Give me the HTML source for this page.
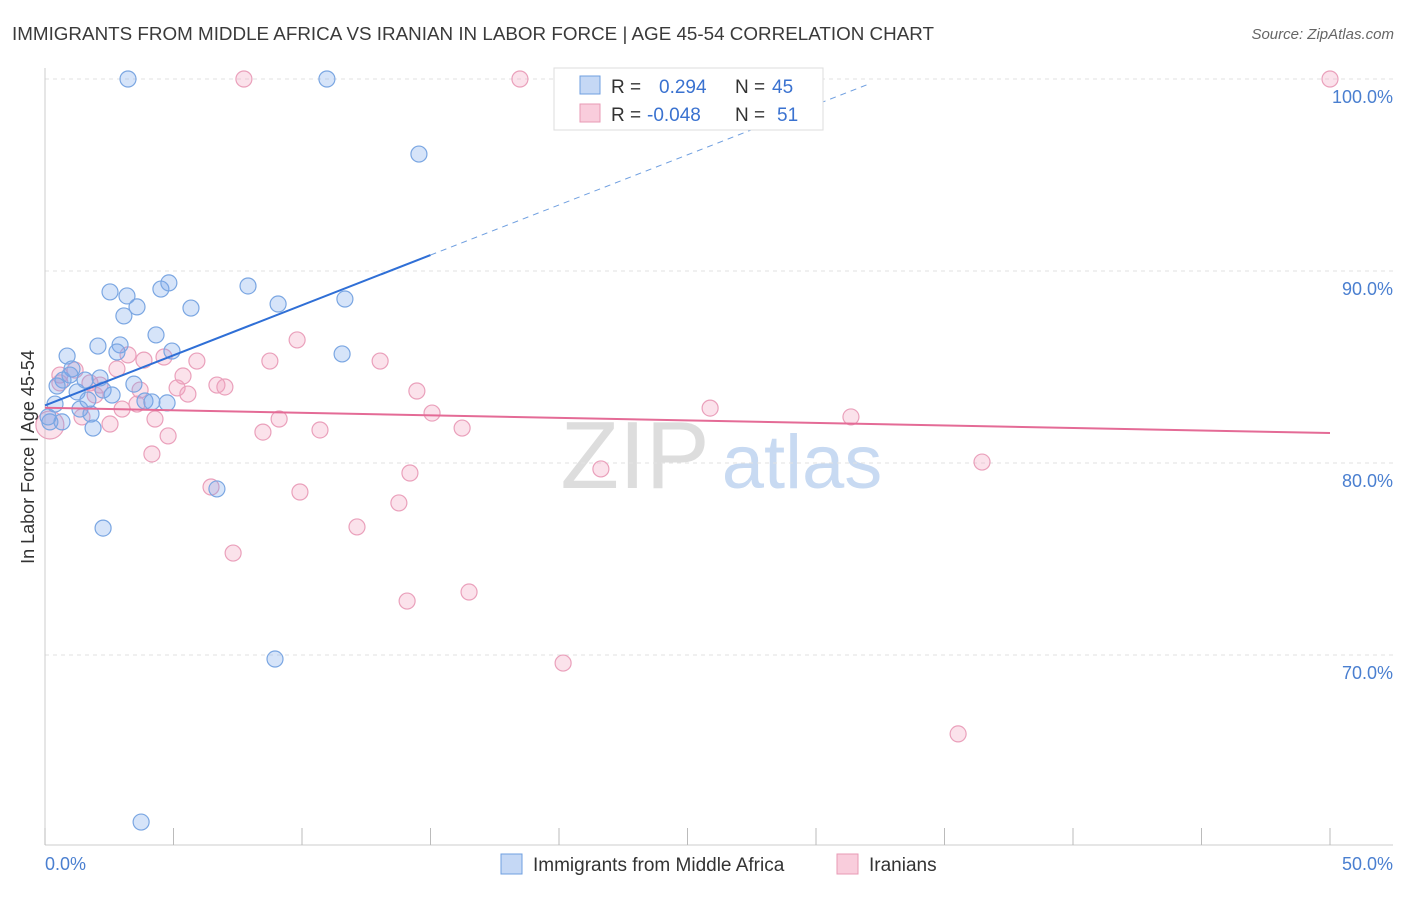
<!DOCTYPE html>
<html><head><meta charset="utf-8"><style>
body{margin:0;background:#fff;font-family:"Liberation Sans",sans-serif;}
svg text{font-family:"Liberation Sans",sans-serif;}
</style></head><body>
<svg width="1406" height="892" xmlns="http://www.w3.org/2000/svg">
<text x="12" y="40" font-size="18" fill="#3a3a3a" textLength="922" lengthAdjust="spacingAndGlyphs">IMMIGRANTS FROM MIDDLE AFRICA VS IRANIAN IN LABOR FORCE | AGE 45-54 CORRELATION CHART</text>
<text x="1394" y="39" font-size="15" fill="#666" font-style="italic" text-anchor="end">Source: ZipAtlas.com</text>
<g>
<text x="635" y="488" font-size="96" font-family="Liberation Serif" fill="#ddd" text-anchor="middle">ZIP</text>
<text x="802" y="488" font-size="76" fill="#c8daf2" text-anchor="middle">atlas</text>
</g>
<g id="grid"></g>
<g id="axes"></g>
<g id="marks"></g>
<text transform="translate(34,457) rotate(-90)" font-size="18" fill="#333" text-anchor="middle">In Labor Force | Age 45-54</text>
<text x="45" y="870" font-size="18" fill="#4a7fd0">0.0%</text>
<text x="1393" y="870" font-size="18" fill="#4a7fd0" text-anchor="end">50.0%</text>
<g>
<rect x="554" y="68" width="269" height="62" fill="#fff" stroke="#ddd"/>
<rect x="580" y="76" width="20" height="18" fill="#c5d8f5" stroke="#6f9fe0"/>
<rect x="580" y="104" width="20" height="18" fill="#f9cddc" stroke="#e89ab5"/>
<text x="611" y="93" font-size="19" fill="#333">R =</text>
<text x="659" y="93" font-size="19" fill="#3a72d0">0.294</text>
<text x="735" y="93" font-size="19" fill="#333">N =</text>
<text x="772" y="93" font-size="19" fill="#3a72d0">45</text>
<text x="611" y="121" font-size="19" fill="#333">R =</text>
<text x="647" y="121" font-size="19" fill="#3a72d0">-0.048</text>
<text x="735" y="121" font-size="19" fill="#333">N =</text>
<text x="777" y="121" font-size="19" fill="#3a72d0">51</text>
</g>
<g>
<rect x="501" y="854" width="21" height="20" fill="#c5d8f5" stroke="#6f9fe0"/>
<text x="533" y="871" font-size="19" fill="#333">Immigrants from Middle Africa</text>
<rect x="837" y="854" width="21" height="20" fill="#f9cddc" stroke="#e89ab5"/>
<text x="869" y="871" font-size="19" fill="#333">Iranians</text>
</g>
</svg>
<script>
const yTicks=[70,80,90,100];
const yTickLabels=["70.0%","80.0%","90.0%","100.0%"];
const xTicks=[0,5,10,15,20,25,30,35,40,45,50];
const blueX=[3.23,10.97,14.55,2.53,3.19,3.07,3.58,4.51,4.82,5.68,7.90,9.07,11.67,4.32,2.06,2.92,2.80,4.94,0.86,11.56,1.05,0.70,0.47,2.14,3.46,1.25,2.26,2.61,1.67,0.39,3.89,4.16,4.75,1.36,1.79,0.66,0.19,1.87,6.69,2.26,8.95,3.74,0.12,1.56,0.97];
const blueY=[100,100,96.09,88.91,88.70,87.66,88.13,89.06,89.38,88.07,89.22,88.28,88.54,86.67,86.09,86.15,85.78,85.83,85.57,85.68,84.90,84.32,84.01,84.43,84.11,83.70,83.80,83.54,83.28,83.07,83.23,83.18,83.13,82.81,82.55,82.14,82.14,81.82,78.65,76.61,69.79,61.30,82.40,84.32,84.58];
const pinkX=[7.74,18.48,50.0,9.81,13.04,8.75,5.91,4.63,3.85,3.23,2.80,1.17,0.58,5.37,6.69,7.00,5.14,5.56,14.47,2.14,1.75,25.88,15.06,31.36,3.00,3.58,4.28,1.44,2.53,9.11,10.70,8.48,16.23,4.79,4.16,21.63,36.46,14.20,6.46,9.92,13.77,12.14,7.32,16.50,14.09,20.16,35.53,0.19,0.58,1.95,3.70];
const pinkY=[100,100,100,86.41,85.31,85.31,85.31,85.52,85.36,85.63,84.90,84.84,84.58,84.53,84.06,83.96,83.91,83.59,83.75,84.06,84.17,82.86,82.60,82.40,82.81,83.07,82.29,82.40,82.03,82.29,81.72,81.61,81.82,81.41,80.47,79.69,80.05,79.48,78.75,78.49,77.92,76.67,75.31,73.28,72.81,69.58,65.89,81.98,84.17,83.54,83.80];
const blueTrendX=[0,15,32.1];
const blueTrendY=[83.0,90.83,99.76];
const pinkTrendX=[0,50];
const pinkTrendY=[82.88,81.56];

const NS="http://www.w3.org/2000/svg";
const xs=v=>45+v*25.7;
const ys=v=>79+(100-v)*19.2;
function mk(tag,attrs,parent){const e=document.createElementNS(NS,tag);for(const k in attrs)e.setAttribute(k,attrs[k]);document.getElementById(parent).appendChild(e);return e;}
yTicks.forEach((t,i)=>{
  const l=mk('line',{x1:45,x2:1393,y1:ys(t),y2:ys(t),stroke:'#e2e2e2','stroke-dasharray':'4,4'},'grid');
  
  
  const tx=mk('text',{x:1393,y:ys(t)+24,'font-size':18,fill:'#4a7fd0','text-anchor':'end'},'grid');
  tx.textContent=yTickLabels[i];
  
  
});
const ya=mk('line',{x1:45,x2:45,y1:68,y2:845,stroke:'#ccc'},'axes');


const xa=mk('line',{x1:45,x2:1393,y1:845,y2:845,stroke:'#ccc'},'axes');


xTicks.forEach(t=>{
  const l=mk('line',{x1:xs(t),x2:xs(t),y1:828,y2:845,stroke:'#bbb'},'axes');
  
  
});
pinkX.forEach((x,i)=>{
  const c=mk('circle',{cx:xs(x),cy:ys(pinkY[i]),r:i==47?14:8,fill:'rgba(242,160,190,0.3)',stroke:'#eaa0bb','stroke-width':1.2},'marks');
  
  
});
blueX.forEach((x,i)=>{
  const c=mk('circle',{cx:xs(x),cy:ys(blueY[i]),r:8,fill:'rgba(120,165,235,0.3)',stroke:'#7aa6e2','stroke-width':1.2},'marks');
  
  
});
const b1=mk('line',{x1:xs(blueTrendX[0]),y1:ys(blueTrendY[0]),x2:xs(blueTrendX[1]),y2:ys(blueTrendY[1]),stroke:'#2f6fd6','stroke-width':2},'marks');


const b2=mk('line',{x1:xs(blueTrendX[1]),y1:ys(blueTrendY[1]),x2:xs(blueTrendX[2]),y2:ys(blueTrendY[2]),stroke:'#6f9fe0','stroke-width':1,'stroke-dasharray':'6,5'},'marks');


const p1=mk('line',{x1:xs(pinkTrendX[0]),y1:ys(pinkTrendY[0]),x2:xs(pinkTrendX[1]),y2:ys(pinkTrendY[1]),stroke:'#e46b96','stroke-width':2},'marks');


</script>
</body></html>
